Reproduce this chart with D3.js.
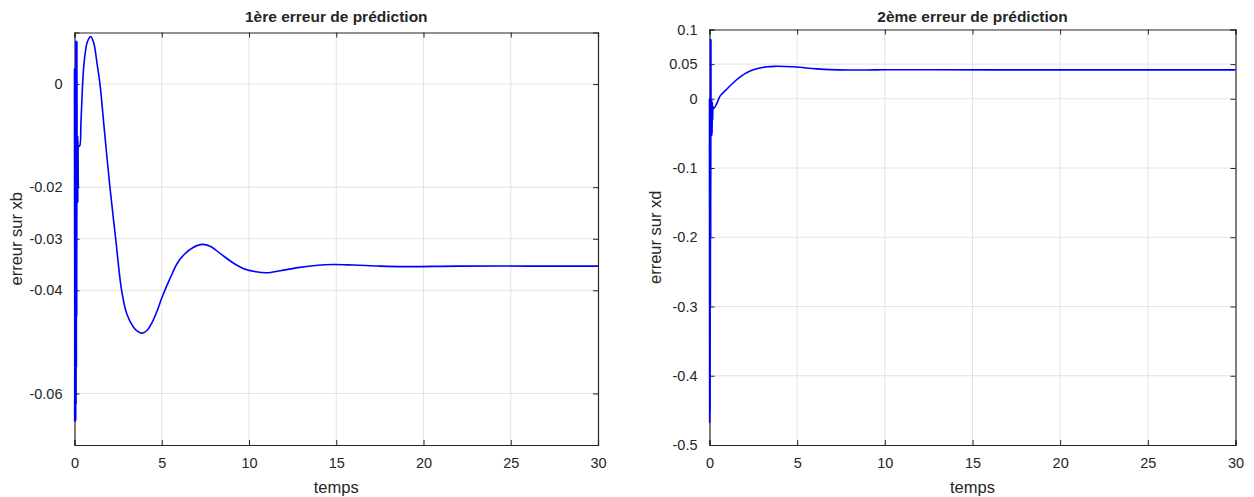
<!DOCTYPE html>
<html><head><meta charset="utf-8">
<script src="https://cdn.jsdelivr.net/npm/d3@7"></script>
<style>
body{margin:0;background:#fff;}
text{font-family:"Liberation Sans",Arial,Helvetica,sans-serif;fill:#262626;}
</style></head>
<body><svg id="c" width="1254" height="497"></svg>
<script>
// ---- data ----
const xTicks = [0, 5, 10, 15, 20, 25, 30];
const yTicks1 = [0, -0.02, -0.03, -0.04, -0.06];
const yTickLabels1 = ["0", "-0.02", "-0.03", "-0.04", "-0.06"];
const yTicks2 = [0.1, 0.05, 0, -0.1, -0.2, -0.3, -0.4, -0.5];
const yTickLabels2 = ["0.1", "0.05", "0", "-0.1", "-0.2", "-0.3", "-0.4", "-0.5"];
const titles = ["1ère erreur de prédiction", "2ème erreur de prédiction"];
const yLabels = ["erreur sur xb", "erreur sur xd"];
const xLabel = "temps";

const t1 = [0, 0.01, 0.02, 0.03, 0.04, 0.05, 0.06, 0.07, 0.08, 0.09, 0.10, 0.11, 0.12, 0.13, 0.14, 0.15, 0.16, 0.17, 0.18, 0.19, 0.20, 0.22, 0.25, 0.30, 0.37, 0.45, 0.52, 0.62, 0.75, 0.93, 1.1, 1.3, 1.46, 1.7, 2.03, 2.36, 2.70, 2.99, 3.37, 3.6, 3.89, 4.15, 4.42, 4.7, 5.0, 5.5, 5.9, 6.3, 6.8, 7.3, 7.8, 8.4, 9.1, 9.7, 10.4, 11.0, 11.8, 12.8, 13.8, 14.8, 16, 17.5, 19, 22, 26, 30];
const e1 = [0.003, -0.0655, 0.003, -0.0655, 0.002, -0.0655, 0.0025, -0.065, 0.0083, -0.062, 0.0083, -0.055, 0.0083, -0.045, 0.0083, -0.023, -0.010, -0.023, -0.010, -0.023, -0.011, -0.020, -0.012, -0.0120, -0.0075, -0.0010, 0.0030, 0.0062, 0.0083, 0.0092, 0.0080, 0.0038, 0.0, -0.0085, -0.0200, -0.0300, -0.0400, -0.0445, -0.0471, -0.0479, -0.0483, -0.0478, -0.0464, -0.0443, -0.0415, -0.0375, -0.0347, -0.0330, -0.0317, -0.0311, -0.0315, -0.0330, -0.0347, -0.0358, -0.0364, -0.0366, -0.0362, -0.0356, -0.0352, -0.0350, -0.0351, -0.0353, -0.0354, -0.0353, -0.0353, -0.0353];

const t2 = [0, 0.01, 0.02, 0.03, 0.04, 0.05, 0.06, 0.07, 0.08, 0.09, 0.10, 0.11, 0.12, 0.13, 0.14, 0.15, 0.16, 0.18, 0.21, 0.25, 0.42, 0.61, 0.98, 1.37, 1.85, 2.32, 2.8, 3.3, 3.7, 4.3, 4.98, 5.5, 6.1, 6.86, 8, 9.5, 11, 13, 16, 20, 25, 30];
const e2 = [0.0, -0.468, 0.0, -0.45, 0.0, -0.3, 0.0858, -0.2, 0.085, -0.05, -0.002, -0.053, -0.002, -0.053, -0.004, -0.05, -0.005, -0.03, -0.012, -0.0137, -0.0066, 0.0041, 0.0137, 0.0235, 0.0335, 0.0400, 0.0440, 0.0462, 0.0468, 0.0466, 0.0458, 0.0445, 0.0432, 0.0420, 0.0415, 0.0417, 0.0419, 0.0418, 0.0417, 0.0417, 0.0417, 0.0417];

// ---- drawing ----
const svg = d3.select("#c");
const panels = [
  {x0: 74.5, x1: 598, y0: 32.5, y1: 445, ydom: [-0.07, 0.01], yt: yTicks1, ytl: yTickLabels1, t: t1, e: e1, title: titles[0], yl: yLabels[0], ylx: 22},
  {x0: 709.5, x1: 1235.5, y0: 29.5, y1: 445, ydom: [-0.5, 0.1], yt: yTicks2, ytl: yTickLabels2, t: t2, e: e2, title: titles[1], yl: yLabels[1], ylx: 661}
];

panels.forEach(p => {
  const x = d3.scaleLinear().domain([0, 30]).range([p.x0, p.x1]);
  const y = d3.scaleLinear().domain(p.ydom).range([p.y1, p.y0]);
  const g = svg.append("g");

  // grid
  g.append("g").selectAll("line").data(xTicks.slice(1, -1)).join("line")
    .attr("x1", d => x(d)).attr("x2", d => x(d)).attr("y1", p.y0).attr("y2", p.y1)
    .attr("stroke", "#e3e3e3").attr("stroke-width", 1);
  g.append("g").selectAll("line").data(p.yt.filter(v => v > p.ydom[0] && v < p.ydom[1])).join("line")
    .attr("x1", p.x0).attr("x2", p.x1).attr("y1", d => y(d)).attr("y2", d => y(d))
    .attr("stroke", "#e3e3e3").attr("stroke-width", 1);

  // axes
  const ax = d3.axisBottom(x).tickValues(xTicks).tickSize(-5).tickPadding(13).tickFormat(d3.format("d"));
  const axT = d3.axisTop(x).tickValues(xTicks).tickSize(-5).tickFormat("");
  const ay = d3.axisLeft(y).tickValues(p.yt).tickSize(-5).tickPadding(12).tickFormat((d, i) => p.ytl[i]);
  const ayR = d3.axisRight(y).tickValues(p.yt).tickSize(-5).tickFormat("");
  [[ax, `translate(0,${p.y1})`], [axT, `translate(0,${p.y0})`], [ay, `translate(${p.x0},0)`], [ayR, `translate(${p.x1},0)`]].forEach(([a, tr]) => {
    const s = g.append("g").attr("transform", tr).call(a);
    s.select(".domain").attr("stroke", "#262626").attr("stroke-width", 1.2);
    s.selectAll(".tick line").attr("stroke", "#262626");
    s.selectAll("text").style("font-size", "14.5px").attr("fill", "#262626")
      .style("font-family", '"Liberation Sans", Arial, sans-serif');
  });

  // line
  const line = d3.line().x((d, i) => x(p.t[i])).y(d => y(d)).curve(d3.curveCatmullRom.alpha(0.5));
  g.append("path").datum(p.e).attr("d", line)
    .attr("fill", "none").attr("stroke", "#0000ff").attr("stroke-width", 1.6);

  // title & labels
  g.append("text").attr("x", (p.x0 + p.x1) / 2).attr("y", 22).attr("text-anchor", "middle")
    .style("font-size", "15.5px").style("font-weight", "bold").attr("fill", "#000").text(p.title);
  g.append("text").attr("x", (p.x0 + p.x1) / 2).attr("y", 493).attr("text-anchor", "middle")
    .style("font-size", "16.5px").text(xLabel);
  g.append("text").attr("transform", `translate(${p.ylx},${(p.y0 + p.y1) / 2}) rotate(-90)`)
    .attr("text-anchor", "middle").style("font-size", "16.5px").text(p.yl);
});
</script></body></html>
